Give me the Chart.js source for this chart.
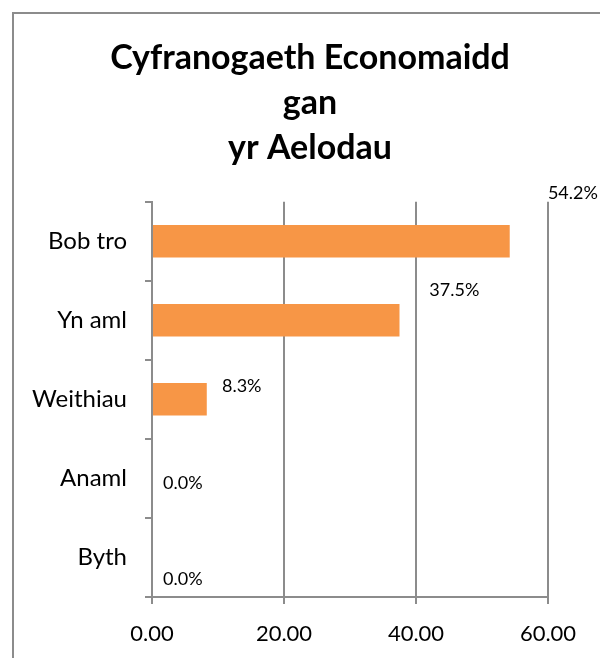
<!DOCTYPE html>
<html>
<head>
<meta charset="utf-8">
<script src="https://cdn.jsdelivr.net/npm/chart.js@4.4.1/dist/chart.umd.min.js"></script>
<style>
  html, body { margin: 0; padding: 0; background: #fff; overflow: hidden; }
  #frame { position: absolute; left: 12px; top: 12px; width: 700px; height: 760px; border: 2px solid #8c8c8c; box-sizing: border-box; }
  #wrap { position: absolute; left: 0; top: 0; width: 600px; height: 658px; }
</style>
</head>
<body>
<div id="frame"></div>
<div id="wrap"><canvas id="chart" width="600" height="658"></canvas></div>
<script>
// Data
const categories = ['Bob tro', 'Yn aml', 'Weithiau', 'Anaml', 'Byth'];
const percentages = [54.2, 37.5, 8.3, 0.0, 0.0];
const xTicks = [0, 20, 40, 60];
const titleLines = ['Cyfranogaeth Economaidd', 'gan', 'yr Aelodau'];

const gridGray = '#8c8c8c';

// Excel-style labels, drawn slightly off the bars
const pctLabels = {
    id: 'pctLabels',
    afterDatasetsDraw(chart) {
        const { ctx, chartArea } = chart;
        const meta = chart.getDatasetMeta(0);
        const midY = (chartArea.top + chartArea.bottom) / 2;
        ctx.save();
        ctx.font = '18px Lato';
        ctx.fillStyle = '#000';
        ctx.textAlign = 'left';
        ctx.textBaseline = 'middle';
        meta.data.forEach((bar, i) => {
            const x = chartArea.left + (bar.x - chartArea.left) * 1.076 + 11;
            const y = midY + (bar.y - midY) * 1.22 - 13;
            ctx.fillText(percentages[i].toFixed(1) + '%', x, y);
        });
        ctx.restore();
    }
};

new Chart(document.getElementById('chart'), {
    type: 'bar',
    data: {
        labels: categories,
        datasets: [{
            data: percentages,
            backgroundColor: '#F79646',
            borderWidth: 0,
            categoryPercentage: 1,
            barPercentage: 0.41
        }]
    },
    options: {
        indexAxis: 'y',
        responsive: false,
        animation: false,
        layout: { padding: { left: 20, right: 0, top: 0, bottom: 0 } },
        plugins: {
            legend: { display: false },
            tooltip: { enabled: false },
            title: {
                display: true,
                text: titleLines,
                color: '#000',
                font: { family: 'Lato', size: 34, weight: 'bold', lineHeight: 1.32 },
                padding: { top: 36, bottom: 31 }
            }
        },
        scales: {
            x: {
                min: 0,
                max: 60,
                afterBuildTicks(scale) { scale.ticks = xTicks.map(v => ({ value: v })); },
                afterFit(scale) { scale.height = 61; },
                ticks: {
                    color: '#000',
                    font: { family: 'Lato', size: 22 },
                    padding: 17,
                    callback: v => Number(v).toFixed(2)
                },
                grid: { color: gridGray, lineWidth: 2, tickLength: 7 },
                border: { color: gridGray, width: 2 }
            },
            y: {
                afterFit(scale) { scale.width = 132; },
                ticks: {
                    color: '#000',
                    font: { family: 'Lato', size: 24 },
                    padding: 18
                },
                grid: { color: gridGray, lineWidth: 2, tickLength: 7, offset: true, drawOnChartArea: false },
                border: { color: gridGray, width: 2 }
            },
            spacer: {
                axis: 'y',
                position: 'right',
                display: true,
                afterFit(scale) { scale.width = 52; },
                ticks: { display: false },
                grid: { display: false, drawTicks: false },
                border: { display: false }
            }
        }
    },
    plugins: [pctLabels]
});
</script>
</body>
</html>
